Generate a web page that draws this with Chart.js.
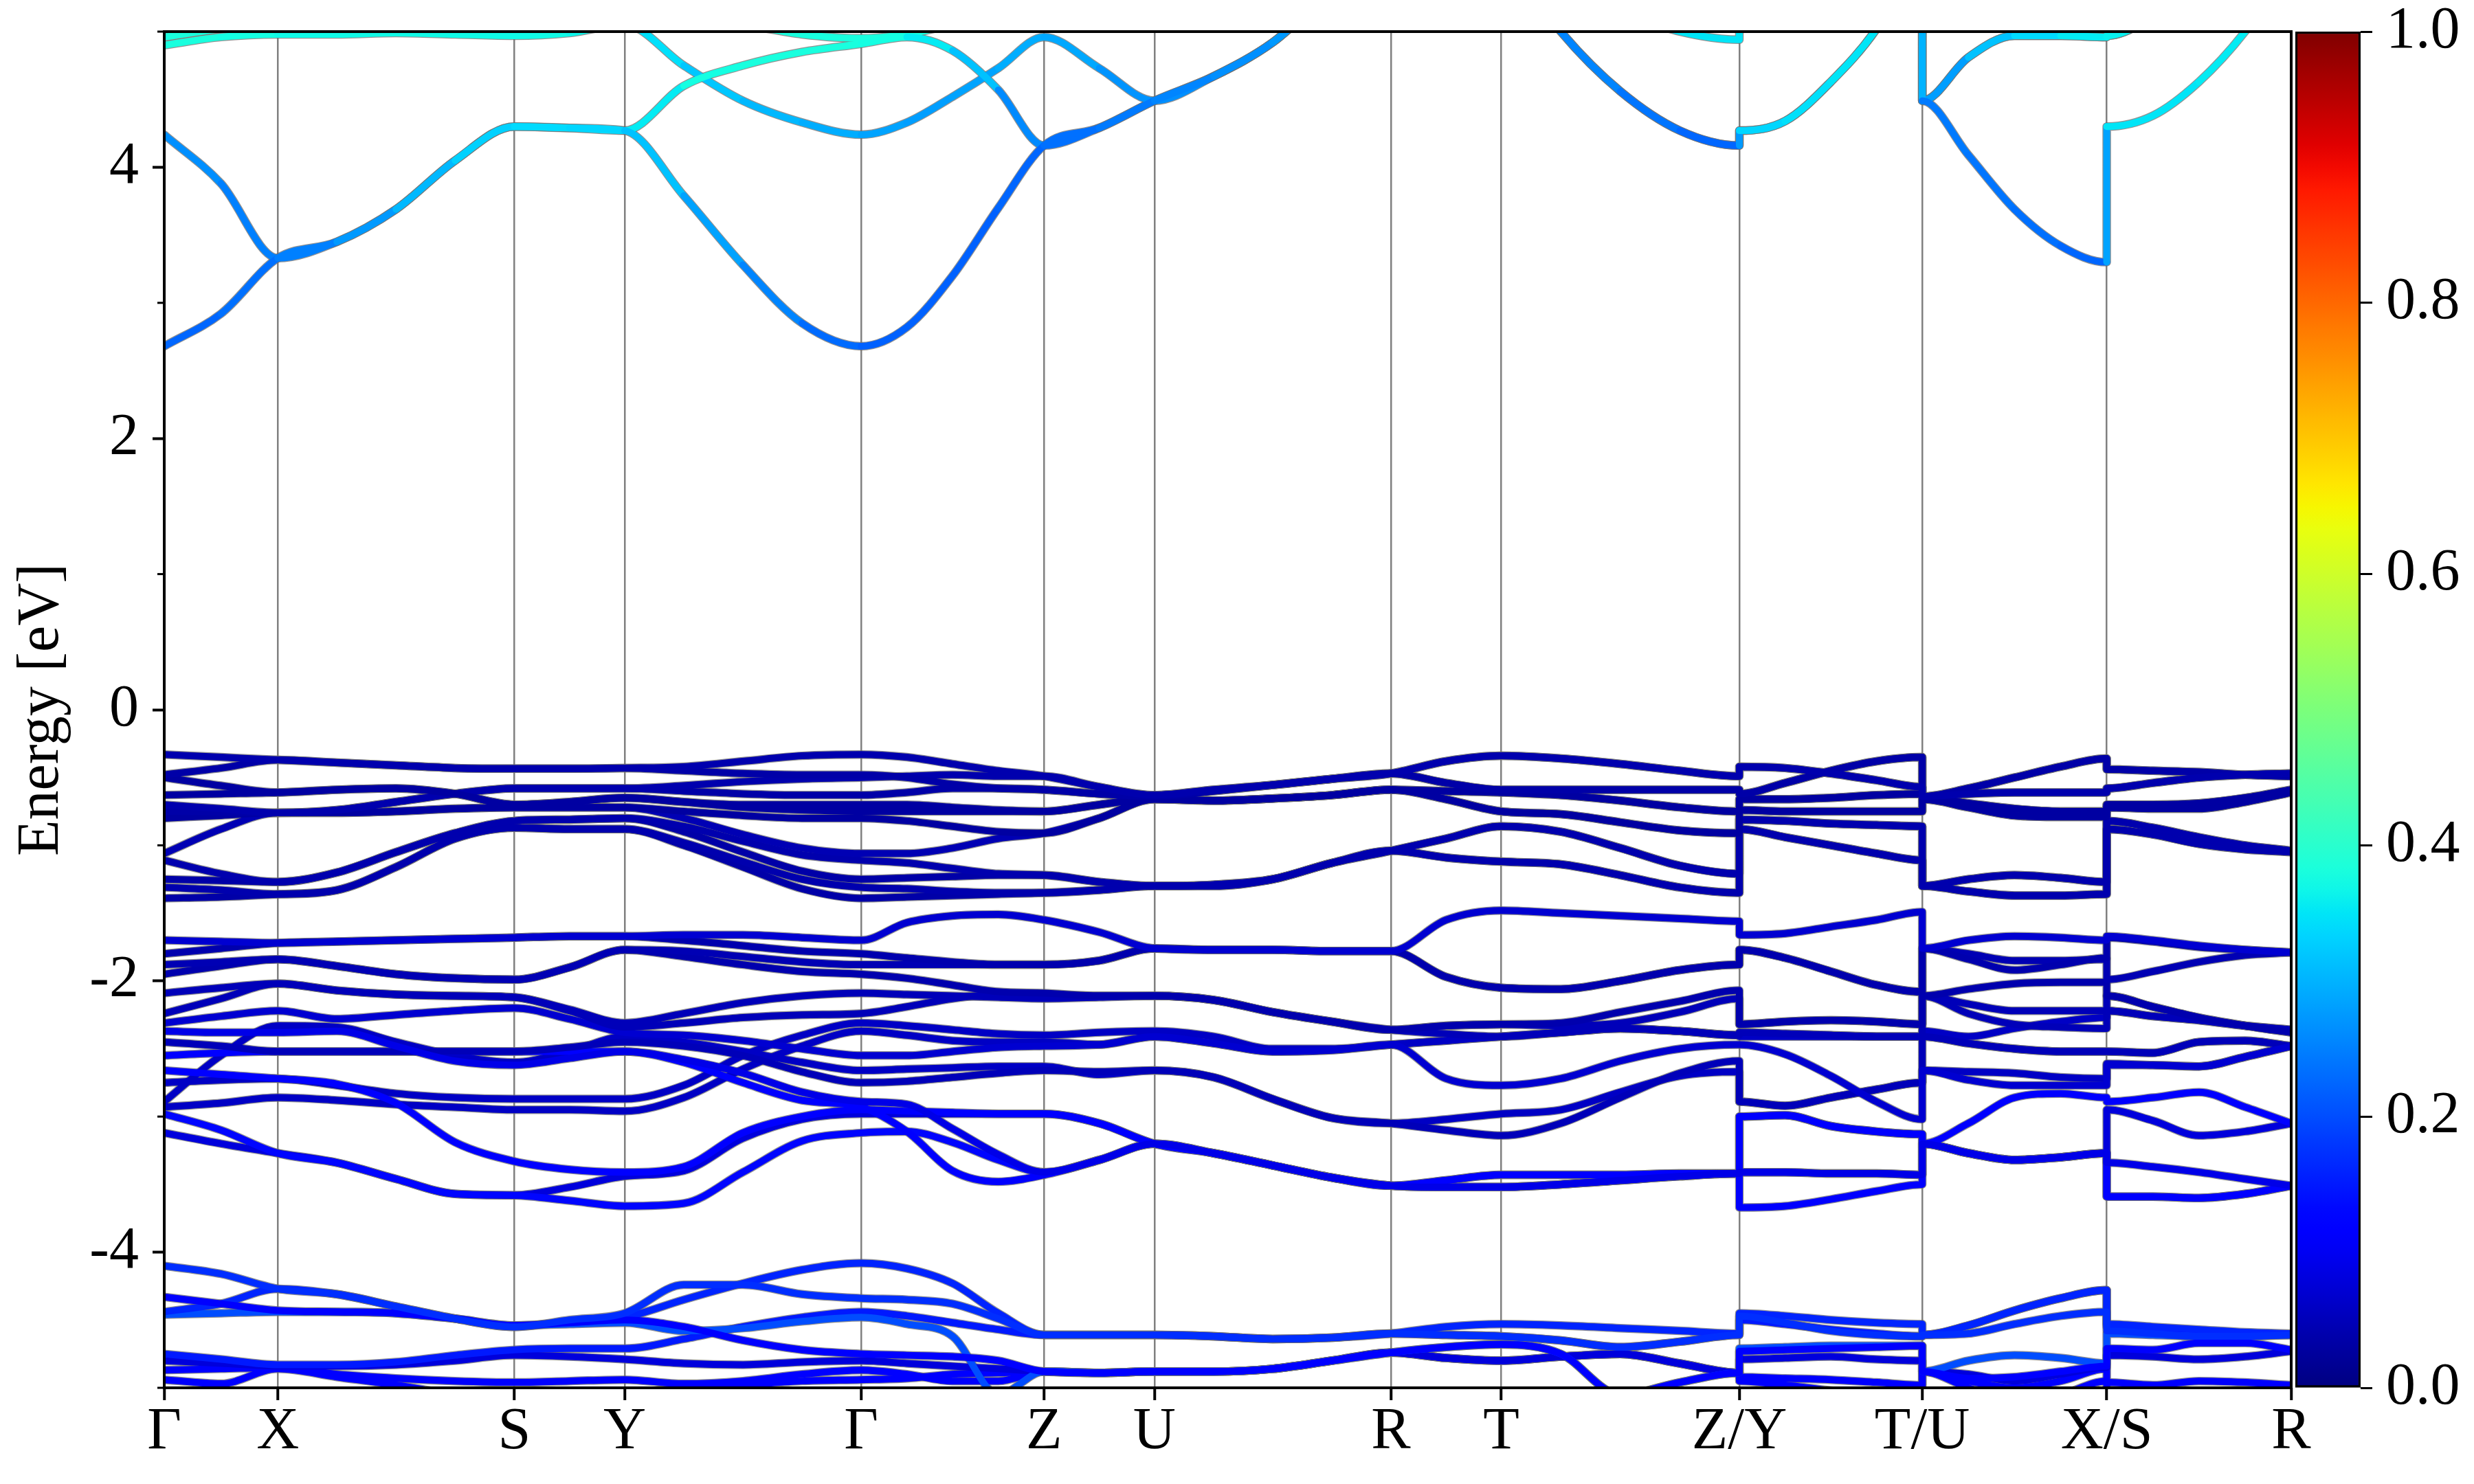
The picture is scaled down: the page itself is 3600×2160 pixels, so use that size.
<!DOCTYPE html>
<html><head><meta charset="utf-8">
<script src="https://cdn.jsdelivr.net/npm/chart.js@4"></script>
<style>
html,body{margin:0;padding:0;background:#fff;}
#wrap{position:relative;width:3600px;height:2160px;background:#fff;}
canvas{position:absolute;left:0;top:0;}
</style></head><body>
<div id="wrap"><canvas id="bands" width="3600" height="2160"></canvas><canvas id="cbar" width="3600" height="2160"></canvas></div>
<script>
// ---------- k-path ----------
const kTicks  = [0, 0.72, 2.22, 2.92, 4.42, 5.58, 6.28, 7.78, 8.48, 9.99, 11.15, 12.32, 13.49];
const kLabels = ['Γ','X','S','Y','Γ','Z','U','R','T','Z/Y','T/U','X/S','R'];
const kSubdiv = [2,4,2,4,4,2,4,2,4,4,4,4];
const jumpStarts = [9,10,11];
const yTickVals = [-4,-2,0,2,4];
const yMinorVals = [-5,-3,-1,1,3,5];
const cbarTicks = [0,0.2,0.4,0.6,0.8,1.0];

// grid order: G X S Y G Z U R T Z | Y..T | U..X | S..R
// ---------- conduction bands ----------
const c1 = [2.68,2.92,3.33,3.45,3.69,4.05,4.30,4.29,4.27,3.79,3.28,2.85,2.68,2.82,3.20,3.70,4.16,4.29,4.49,4.67,4.92,5.30,5.60,5.70,5.60,5.00,4.56,4.27,4.16,
  4.27,4.34,4.63,5.02,5.60,
  4.49,4.09,3.69,3.42,3.30,
  4.30,4.38,4.63,5.00,5.50];
const c1w = [0.22,0.23,0.24,0.26,0.29,0.32,0.34,0.34,0.33,0.30,0.27,0.24,0.22,0.22,0.22,0.22,0.23,0.24,0.25,0.26,0.27,0.28,0.28,0.28,0.28,0.26,0.25,0.23,0.22,
  0.33,0.34,0.35,0.35,0.35,
  0.25,0.24,0.24,0.23,0.22,
  0.35,0.35,0.35,0.36,0.36];
const c2 = [4.24,3.88,3.33,3.45,3.69,4.05,4.30,4.29,4.27,4.60,4.75,4.85,4.91,4.96,4.86,4.57,4.16,4.29,4.49,4.67,4.92,5.30,5.60,5.70,5.60,5.00,4.56,4.27,4.16,
  4.27,4.34,4.63,5.02,5.60,
  4.49,4.81,4.97,4.97,4.96,
  4.97,5.10,5.30,5.50,5.60];
const c2w = [0.27,0.26,0.24,0.26,0.29,0.32,0.34,0.34,0.34,0.37,0.38,0.38,0.38,0.37,0.34,0.29,0.23,0.24,0.25,0.26,0.27,0.28,0.28,0.28,0.28,0.26,0.25,0.23,0.22,
  0.33,0.34,0.35,0.35,0.35,
  0.26,0.30,0.33,0.35,0.36,
  0.36,0.36,0.36,0.36,0.36];
const c3 = [4.90,4.96,4.98,4.98,4.99,4.98,4.97,4.99,5.05,4.75,4.49,4.33,4.24,4.33,4.52,4.73,4.96,4.73,4.49,4.67,4.92,5.30,5.60,5.70,5.60,5.30,5.15,5.00,4.94,
  5.05,5.20,5.40,5.50,5.60,
  4.49,4.81,4.97,4.97,4.96,
  4.97,5.10,5.30,5.50,5.60];
const c3w = [0.38,0.38,0.37,0.37,0.37,0.37,0.37,0.37,0.36,0.33,0.31,0.30,0.29,0.28,0.28,0.29,0.30,0.28,0.26,0.27,0.28,0.30,0.30,0.30,0.30,0.32,0.34,0.35,0.35,
  0.35,0.35,0.35,0.35,0.35,
  0.26,0.30,0.33,0.35,0.36,
  0.36,0.36,0.36,0.36,0.36];
const c4 = [4.96,5.02,5.05,5.10,5.10,5.10,5.10,5.10,5.10,5.10,5.05,4.98,4.95,4.98,5.05,5.10,5.15,5.20,5.30,5.30,5.30,5.30,5.30,5.30,5.30,5.30,5.30,5.30,5.30,
  5.30,5.30,5.30,5.30,5.30,
  5.30,5.30,5.30,5.30,5.30,
  5.30,5.30,5.30,5.30,5.30];

// ---------- upper valence group ----------
const a1 = [-0.33,-0.35,-0.37,-0.39,-0.41,-0.43,-0.435,-0.435,-0.43,-0.42,-0.38,-0.34,-0.33,-0.35,-0.40,-0.45,-0.49,-0.57,-0.63,-0.59,-0.555,-0.51,-0.47,-0.38,-0.34,-0.36,-0.40,-0.45,-0.49,
  -0.42,-0.43,-0.47,-0.52,-0.57,
  -0.64,-0.62,-0.61,-0.61,-0.61,
  -0.58,-0.54,-0.50,-0.48,-0.47];
const a2 = [-0.48,-0.43,-0.37,-0.39,-0.41,-0.43,-0.435,-0.435,-0.43,-0.45,-0.47,-0.48,-0.48,-0.50,-0.55,-0.58,-0.59,-0.62,-0.64,-0.60,-0.555,-0.51,-0.47,-0.54,-0.59,-0.59,-0.59,-0.59,-0.59,
  -0.62,-0.54,-0.45,-0.38,-0.35,
  -0.64,-0.58,-0.50,-0.42,-0.36,
  -0.44,-0.45,-0.46,-0.48,-0.49];
const a3 = [-0.50,-0.56,-0.61,-0.59,-0.58,-0.62,-0.70,-0.68,-0.65,-0.68,-0.70,-0.70,-0.70,-0.70,-0.72,-0.74,-0.75,-0.70,-0.65,-0.67,-0.655,-0.63,-0.59,-0.60,-0.61,-0.63,-0.67,-0.72,-0.75,
  -0.66,-0.66,-0.65,-0.63,-0.62,
  -0.65,-0.69,-0.73,-0.75,-0.75,
  -0.70,-0.70,-0.69,-0.65,-0.59];
const a4 = [-0.63,-0.62,-0.61,-0.59,-0.58,-0.62,-0.70,-0.68,-0.65,-0.68,-0.72,-0.74,-0.75,-0.75,-0.75,-0.75,-0.75,-0.70,-0.66,-0.67,-0.655,-0.63,-0.59,-0.66,-0.75,-0.77,-0.83,-0.89,-0.91,
  -0.74,-0.75,-0.75,-0.75,-0.75,
  -0.66,-0.72,-0.78,-0.79,-0.79,
  -0.72,-0.73,-0.73,-0.68,-0.61];
const a5 = [-0.70,-0.73,-0.76,-0.74,-0.68,-0.62,-0.58,-0.58,-0.58,-0.56,-0.53,-0.51,-0.50,-0.49,-0.48,-0.49,-0.49,-0.57,-0.63,-0.59,-0.555,-0.51,-0.47,-0.38,-0.34,-0.36,-0.40,-0.45,-0.49,
  -0.42,-0.43,-0.47,-0.52,-0.57,
  -0.64,-0.62,-0.61,-0.61,-0.61,
  -0.58,-0.54,-0.50,-0.48,-0.47];
const a6 = [-0.75,-0.755,-0.76,-0.74,-0.68,-0.62,-0.58,-0.58,-0.58,-0.60,-0.62,-0.63,-0.63,-0.61,-0.58,-0.58,-0.59,-0.62,-0.64,-0.60,-0.555,-0.51,-0.47,-0.54,-0.59,-0.59,-0.59,-0.59,-0.59,
  -0.62,-0.54,-0.45,-0.38,-0.35,
  -0.64,-0.58,-0.50,-0.42,-0.36,
  -0.44,-0.45,-0.46,-0.48,-0.49];
const a7 = [-0.80,-0.78,-0.76,-0.76,-0.75,-0.73,-0.72,-0.72,-0.72,-0.75,-0.78,-0.80,-0.80,-0.82,-0.86,-0.90,-0.91,-0.80,-0.66,-0.67,-0.655,-0.63,-0.59,-0.60,-0.61,-0.63,-0.67,-0.72,-0.75,
  -0.66,-0.66,-0.65,-0.63,-0.62,
  -0.65,-0.69,-0.73,-0.75,-0.75,
  -0.70,-0.70,-0.69,-0.65,-0.59];
const a8 = [-1.06,-0.88,-0.76,-0.76,-0.75,-0.73,-0.72,-0.72,-0.72,-0.80,-0.92,-1.02,-1.06,-1.06,-1.02,-0.95,-0.91,-0.80,-0.66,-0.67,-0.655,-0.63,-0.59,-0.66,-0.75,-0.77,-0.83,-0.89,-0.91,
  -0.74,-0.75,-0.75,-0.75,-0.75,
  -0.66,-0.72,-0.78,-0.79,-0.79,
  -0.72,-0.73,-0.73,-0.68,-0.61];
const a9 = [-1.11,-1.21,-1.27,-1.20,-1.05,-0.91,-0.82,-0.81,-0.80,-0.86,-0.97,-1.07,-1.11,-1.13,-1.17,-1.21,-1.22,-1.27,-1.30,-1.29,-1.25,-1.13,-1.04,-0.95,-0.86,-0.90,-1.02,-1.15,-1.21,
  -0.81,-0.82,-0.84,-0.85,-0.86,
  -1.30,-1.25,-1.22,-1.24,-1.27,
  -0.82,-0.87,-0.94,-1.00,-1.04];
const a10 = [-1.25,-1.26,-1.27,-1.20,-1.05,-0.91,-0.82,-0.81,-0.80,-0.90,-1.05,-1.19,-1.25,-1.24,-1.23,-1.22,-1.22,-1.27,-1.30,-1.29,-1.25,-1.13,-1.04,-0.95,-0.86,-0.90,-1.02,-1.15,-1.21,
  -0.81,-0.82,-0.84,-0.85,-0.86,
  -1.30,-1.25,-1.22,-1.24,-1.27,
  -0.82,-0.87,-0.94,-1.00,-1.04];
const a11 = [-1.31,-1.33,-1.36,-1.33,-1.16,-0.95,-0.87,-0.88,-0.88,-0.98,-1.12,-1.25,-1.31,-1.32,-1.34,-1.35,-1.35,-1.33,-1.30,-1.30,-1.25,-1.13,-1.04,-1.09,-1.12,-1.14,-1.22,-1.31,-1.35,
  -0.88,-0.94,-1.00,-1.06,-1.11,
  -1.30,-1.34,-1.37,-1.37,-1.36,
  -0.88,-0.92,-0.99,-1.03,-1.05];
const a12 = [-1.39,-1.38,-1.36,-1.33,-1.16,-0.95,-0.87,-0.88,-0.88,-1.00,-1.16,-1.32,-1.39,-1.38,-1.37,-1.36,-1.35,-1.33,-1.30,-1.30,-1.25,-1.13,-1.04,-1.09,-1.12,-1.14,-1.22,-1.31,-1.35,
  -0.88,-0.94,-1.00,-1.06,-1.11,
  -1.30,-1.34,-1.37,-1.37,-1.36,
  -0.88,-0.92,-0.99,-1.03,-1.05];

// ---------- middle valence group ----------
const b1 = [-1.70,-1.71,-1.72,-1.71,-1.70,-1.69,-1.68,-1.67,-1.67,-1.66,-1.66,-1.68,-1.70,-1.57,-1.52,-1.51,-1.55,-1.64,-1.76,-1.77,-1.77,-1.78,-1.78,-1.55,-1.48,-1.50,-1.52,-1.54,-1.56,
  -1.66,-1.65,-1.60,-1.55,-1.49,
  -1.76,-1.70,-1.67,-1.68,-1.70,
  -1.67,-1.70,-1.74,-1.77,-1.79];
const b2 = [-1.80,-1.76,-1.72,-1.71,-1.70,-1.69,-1.68,-1.67,-1.67,-1.70,-1.74,-1.78,-1.80,-1.83,-1.86,-1.88,-1.88,-1.85,-1.76,-1.77,-1.77,-1.78,-1.78,-1.97,-2.05,-2.06,-2.00,-1.92,-1.88,
  -1.77,-1.83,-1.93,-2.03,-2.08,
  -1.76,-1.84,-1.92,-1.88,-1.83,
  -1.68,-1.71,-1.75,-1.77,-1.79];
const b3 = [-1.88,-1.86,-1.84,-1.89,-1.95,-1.98,-1.99,-1.90,-1.77,-1.78,-1.82,-1.86,-1.88,-1.88,-1.88,-1.88,-1.88,-1.85,-1.76,-1.77,-1.77,-1.78,-1.78,-1.97,-2.05,-2.06,-2.00,-1.92,-1.88,
  -1.77,-1.83,-1.93,-2.03,-2.08,
  -1.76,-1.80,-1.85,-1.85,-1.84,
  -1.99,-1.93,-1.86,-1.81,-1.79];
const b4 = [-1.95,-1.89,-1.84,-1.89,-1.95,-1.98,-1.99,-1.90,-1.77,-1.82,-1.88,-1.93,-1.95,-1.98,-2.03,-2.08,-2.09,-2.11,-2.11,-2.14,-2.23,-2.30,-2.36,-2.33,-2.32,-2.31,-2.23,-2.15,-2.07,
  -2.32,-2.30,-2.29,-2.30,-2.32,
  -2.11,-2.06,-2.02,-2.01,-2.01,
  -2.11,-2.19,-2.27,-2.33,-2.38];
const b5 = [-2.09,-2.05,-2.02,-2.07,-2.10,-2.11,-2.12,-2.21,-2.31,-2.24,-2.16,-2.11,-2.09,-2.10,-2.11,-2.12,-2.13,-2.12,-2.11,-2.14,-2.23,-2.30,-2.36,-2.33,-2.32,-2.33,-2.31,-2.23,-2.13,
  -2.32,-2.30,-2.29,-2.30,-2.32,
  -2.11,-2.17,-2.22,-2.22,-2.22,
  -2.11,-2.19,-2.27,-2.33,-2.38];
const b6 = [-2.24,-2.13,-2.02,-2.07,-2.10,-2.11,-2.12,-2.22,-2.34,-2.31,-2.27,-2.25,-2.24,-2.19,-2.13,-2.10,-2.10,-2.11,-2.11,-2.14,-2.23,-2.30,-2.36,-2.39,-2.41,-2.38,-2.35,-2.37,-2.40,
  -2.38,-2.39,-2.40,-2.41,-2.41,
  -2.11,-2.24,-2.32,-2.34,-2.35,
  -2.22,-2.26,-2.29,-2.33,-2.36];
const b7 = [-2.31,-2.26,-2.22,-2.28,-2.25,-2.22,-2.20,-2.28,-2.38,-2.40,-2.44,-2.50,-2.55,-2.55,-2.52,-2.49,-2.48,-2.47,-2.41,-2.46,-2.52,-2.51,-2.47,-2.72,-2.77,-2.72,-2.59,-2.50,-2.47,
  -2.47,-2.54,-2.70,-2.89,-3.02,
  -2.66,-2.73,-2.77,-2.77,-2.77,
  -2.62,-2.62,-2.63,-2.56,-2.48];
const b8 = [-2.37,-2.38,-2.38,-2.37,-2.48,-2.59,-2.62,-2.57,-2.52,-2.58,-2.68,-2.82,-2.89,-2.91,-3.09,-3.28,-3.41,-3.32,-3.20,-3.27,-3.36,-3.45,-3.51,-3.52,-3.52,-3.50,-3.47,-3.44,-3.42,
  -3.41,-3.41,-3.42,-3.42,-3.43,
  -3.20,-3.27,-3.32,-3.30,-3.27,
  -3.34,-3.37,-3.41,-3.46,-3.51];
const b9 = [-2.45,-2.48,-2.52,-2.52,-2.52,-2.52,-2.52,-2.49,-2.45,-2.48,-2.55,-2.67,-2.75,-2.74,-2.71,-2.68,-2.66,-2.67,-2.66,-2.71,-2.87,-3.01,-3.05,-3.10,-3.14,-3.05,-2.86,-2.68,-2.59,
  -2.89,-2.92,-2.86,-2.80,-2.75,
  -2.41,-2.46,-2.50,-2.52,-2.52,
  -2.52,-2.53,-2.45,-2.44,-2.48];
const b10 = [-2.55,-2.53,-2.52,-2.52,-2.52,-2.52,-2.52,-2.52,-2.52,-2.60,-2.75,-2.88,-2.93,-3.11,-3.40,-3.48,-3.43,-3.32,-3.20,-3.27,-3.36,-3.45,-3.51,-3.52,-3.52,-3.50,-3.47,-3.44,-3.42,
  -3.67,-3.66,-3.61,-3.55,-3.50,
  -3.20,-3.27,-3.32,-3.30,-3.27,
  -3.59,-3.59,-3.60,-3.57,-3.51];
const b11 = [-2.66,-2.69,-2.72,-2.76,-2.90,-3.19,-3.33,-3.39,-3.41,-3.37,-3.12,-3.00,-2.95,-2.96,-2.97,-2.98,-2.98,-3.05,-3.20,-3.27,-3.36,-3.45,-3.51,-3.47,-3.43,-3.43,-3.43,-3.42,-3.42,
  -3.00,-2.99,-3.07,-3.11,-3.13,
  -3.20,-3.05,-2.86,-2.83,-2.86,
  -2.89,-2.86,-2.82,-2.93,-3.05];
const b12 = [-2.75,-2.73,-2.72,-2.77,-2.83,-2.86,-2.87,-2.87,-2.87,-2.77,-2.55,-2.40,-2.31,-2.33,-2.36,-2.39,-2.40,-2.38,-2.37,-2.41,-2.50,-2.50,-2.47,-2.44,-2.41,-2.38,-2.35,-2.37,-2.40,
  -2.38,-2.39,-2.40,-2.41,-2.41,
  -2.37,-2.41,-2.35,-2.30,-2.27,
  -2.22,-2.26,-2.29,-2.33,-2.36];
const b13 = [-2.89,-2.55,-2.33,-2.34,-2.45,-2.55,-2.60,-2.52,-2.41,-2.45,-2.52,-2.60,-2.66,-2.65,-2.64,-2.63,-2.63,-2.69,-2.66,-2.71,-2.87,-3.01,-3.05,-3.02,-2.98,-2.95,-2.82,-2.70,-2.67,
  -2.89,-2.92,-2.86,-2.80,-2.75,
  -2.66,-2.67,-2.68,-2.71,-2.72,
  -2.61,-2.62,-2.63,-2.56,-2.48];
const b14 = [-2.93,-2.90,-2.86,-2.88,-2.91,-2.93,-2.95,-2.95,-2.96,-2.86,-2.65,-2.48,-2.37,-2.40,-2.44,-2.45,-2.45,-2.47,-2.41,-2.46,-2.52,-2.51,-2.47,-2.44,-2.41,-2.38,-2.35,-2.37,-2.40,
  -2.41,-2.41,-2.41,-2.41,-2.41,
  -2.41,-2.46,-2.50,-2.52,-2.52,
  -2.52,-2.53,-2.45,-2.44,-2.48];
const b15 = [-2.98,-3.10,-3.27,-3.34,-3.46,-3.57,-3.58,-3.62,-3.66,-3.64,-3.41,-3.18,-3.12,-3.11,-3.19,-3.32,-3.41,-3.32,-3.20,-3.27,-3.36,-3.45,-3.51,-3.52,-3.52,-3.50,-3.47,-3.44,-3.42,
  -3.41,-3.41,-3.42,-3.42,-3.43,
  -3.20,-3.27,-3.32,-3.30,-3.27,
  -3.59,-3.59,-3.60,-3.57,-3.51];
const b16 = [-3.12,-3.20,-3.27,-3.34,-3.46,-3.57,-3.58,-3.52,-3.44,-3.40,-3.16,-3.02,-2.98,-2.98,-2.98,-2.98,-2.98,-3.05,-3.20,-3.27,-3.36,-3.45,-3.51,-3.47,-3.43,-3.43,-3.43,-3.42,-3.42,
  -3.00,-2.99,-3.07,-3.11,-3.13,
  -3.20,-3.27,-3.32,-3.30,-3.27,
  -2.95,-3.03,-3.14,-3.11,-3.05];

// ---------- lower valence group ----------
const d1 = [-4.10,-4.16,-4.27,-4.31,-4.40,-4.49,-4.55,-4.50,-4.45,-4.24,-4.24,-4.31,-4.34,-4.35,-4.38,-4.49,-4.61,-4.61,-4.61,-4.62,-4.64,-4.63,-4.60,-4.61,-4.62,-4.65,-4.70,-4.66,-4.61,
  -4.47,-4.52,-4.58,-4.61,-4.62,
  -4.61,-4.60,-4.53,-4.47,-4.44,
  -4.58,-4.60,-4.62,-4.62,-4.61];
const d2 = [-4.33,-4.38,-4.43,-4.44,-4.45,-4.49,-4.54,-4.52,-4.50,-4.55,-4.65,-4.72,-4.75,-4.76,-4.77,-4.80,-4.88,-4.89,-4.88,-4.88,-4.86,-4.80,-4.74,-4.70,-4.68,-4.75,-5.05,-4.96,-4.89,
  -4.73,-4.72,-4.71,-4.70,-4.69,
  -4.88,-4.93,-4.92,-4.88,-4.84,
  -4.71,-4.72,-4.67,-4.67,-4.72];
const d3 = [-4.44,-4.38,-4.27,-4.31,-4.40,-4.49,-4.55,-4.51,-4.48,-4.35,-4.23,-4.13,-4.08,-4.12,-4.23,-4.45,-4.61,-4.61,-4.61,-4.62,-4.64,-4.63,-4.60,-4.55,-4.53,-4.54,-4.56,-4.58,-4.60,
  -4.45,-4.47,-4.50,-4.52,-4.53,
  -4.61,-4.54,-4.43,-4.34,-4.28,
  -4.53,-4.55,-4.57,-4.59,-4.60];
const d4 = [-4.46,-4.45,-4.44,-4.44,-4.45,-4.49,-4.54,-4.53,-4.52,-4.58,-4.56,-4.51,-4.48,-4.53,-4.62,-5.05,-4.88,-4.89,-4.88,-4.88,-4.86,-4.80,-4.74,-4.70,-4.68,-4.75,-5.05,-4.96,-4.89,
  -4.71,-4.70,-4.69,-4.69,-4.69,
  -4.88,-4.80,-4.76,-4.78,-4.82,
  -4.60,-4.61,-4.62,-4.62,-4.61];
const d5 = [-4.75,-4.79,-4.83,-4.83,-4.81,-4.76,-4.72,-4.71,-4.71,-4.64,-4.55,-4.48,-4.44,-4.47,-4.52,-4.57,-4.61,-4.61,-4.61,-4.62,-4.64,-4.63,-4.60,-4.61,-4.62,-4.65,-4.70,-4.66,-4.61,
  -4.50,-4.53,-4.57,-4.60,-4.62,
  -4.61,-4.54,-4.43,-4.34,-4.28,
  -4.55,-4.57,-4.59,-4.60,-4.61];
const d6 = [-4.80,-4.82,-4.84,-4.84,-4.83,-4.80,-4.76,-4.77,-4.79,-4.82,-4.83,-4.81,-4.80,-4.82,-4.84,-4.86,-4.88,-4.89,-4.88,-4.88,-4.86,-4.80,-4.74,-4.78,-4.80,-4.77,-4.75,-4.82,-4.89,
  -4.79,-4.78,-4.77,-4.79,-4.80,
  -4.88,-4.90,-4.95,-4.90,-4.85,
  -4.76,-4.77,-4.79,-4.77,-4.73];
const d7 = [-4.87,-4.86,-4.85,-4.90,-4.93,-4.95,-4.96,-4.95,-4.94,-4.97,-4.95,-4.90,-4.87,-4.90,-4.95,-4.95,-4.88,-4.89,-4.88,-4.88,-4.86,-4.80,-4.74,-4.78,-4.80,-4.77,-4.75,-4.82,-4.89,
  -4.92,-4.93,-4.94,-4.96,-4.98,
  -4.88,-4.95,-5.00,-4.95,-4.86,
  -4.96,-4.98,-4.95,-4.96,-4.98];
const d8 = [-4.94,-4.97,-4.86,-4.92,-4.98,-5.05,-5.10,-5.10,-5.05,-5.00,-4.98,-4.95,-4.94,-4.93,-4.90,-4.89,-4.88,-4.89,-4.88,-4.88,-4.86,-4.80,-4.74,-4.78,-4.80,-4.77,-4.75,-4.82,-4.89,
  -4.95,-4.98,-5.02,-5.05,-5.10,
  -4.88,-5.00,-5.10,-5.05,-4.95,
  -5.10,-5.10,-5.10,-5.10,-5.10];

// band list: values + projected weight (colour)
const bandList = [
  [c1,c1w],[c2,c2w],[c3,c3w],[c4,0.38],
  [a1,0.04],[a2,0.035],[a3,0.03],[a4,0.03],[a5,0.04],[a6,0.035],[a7,0.03],[a8,0.045],[a9,0.04],[a10,0.035],[a11,0.04],[a12,0.035],
  [b1,0.07],[b2,0.04],[b3,0.045],[b4,0.04],[b5,0.05],[b6,0.05],[b7,0.07],[b8,0.09],[b9,0.05],[b10,0.12],[b11,0.11],[b12,0.06],[b13,0.06],[b14,0.06],[b15,0.13],[b16,0.08],
  [d1,0.17],[d2,0.12],[d3,0.16],[d4,0.20],[d5,0.15],[d6,0.08],[d7,0.11],[d8,0.11]
];

// ---------- helpers ----------
const kGrid = [];
for (let s = 0; s < kSubdiv.length; s++) {
  const a = kTicks[s], b = kTicks[s+1], n = kSubdiv[s];
  const j0 = (s === 0 || jumpStarts.includes(s)) ? 0 : 1;
  for (let j = j0; j <= n; j++) kGrid.push(a + (b - a) * j / n);
}
const JR=[[0,0],[0.35,0],[0.66,1],[0.89,1],[1,0.5]];
const JG=[[0,0],[0.125,0],[0.375,1],[0.64,1],[0.91,0],[1,0]];
const JB=[[0,0.5],[0.11,1],[0.34,1],[0.65,0],[1,0]];
function lin(p,x){ if(x<=p[0][0]) return p[0][1]; for(let i=1;i<p.length;i++){ if(x<=p[i][0]){ const t=(x-p[i-1][0])/(p[i][0]-p[i-1][0]); return p[i-1][1]+t*(p[i][1]-p[i-1][1]); } } return p[p.length-1][1]; }
function jet(x){ return 'rgb('+Math.round(255*lin(JR,x))+','+Math.round(255*lin(JG,x))+','+Math.round(255*lin(JB,x))+')'; }

const FONT = 'Liberation Serif';
Chart.defaults.font.family = FONT;
Chart.defaults.color = '#000';

const datasets = [];
bandList.forEach(([vals, w]) => {
  if (vals.length !== kGrid.length) console.error('length mismatch', vals.length);
  const pts = kGrid.map((k, i) => ({x: k, y: vals[i]}));
  const base = { data: pts, pointRadius: 0, cubicInterpolationMode: 'monotone', fill: false, clip: 0,
                 borderCapStyle: 'round', borderJoinStyle: 'round' };
  // thin grey edge under each band
  datasets.push(Object.assign({}, base, { borderWidth: 12.5, borderColor: 'rgba(110,110,110,0.75)', order: 1 }));
  const ds = Object.assign({}, base, { borderWidth: 10, order: 0 });
  if (Array.isArray(w)) {
    ds.borderColor = jet(w[0]);
    ds.segment = { borderColor: ctx => jet((w[ctx.p0DataIndex] + w[ctx.p1DataIndex]) / 2) };
  } else {
    ds.borderColor = jet(w);
  }
  datasets.push(ds);
});

const framePlugin = {
  id: 'frame',
  afterDraw(chart) {
    const {ctx, chartArea: a, scales: {y}} = chart;
    ctx.save();
    ctx.strokeStyle = '#000';
    ctx.lineWidth = 3;
    for (const v of yMinorVals) {
      const py = y.getPixelForValue(v);
      ctx.beginPath(); ctx.moveTo(a.left - 10, py); ctx.lineTo(a.left, py); ctx.stroke();
    }
    ctx.lineWidth = 4;
    ctx.strokeRect(a.left, a.top, a.right - a.left, a.bottom - a.top);
    ctx.restore();
  }
};

const tickFont = {family: FONT, size: 86, lineHeight: 1};

new Chart(document.getElementById('bands'), {
  type: 'line',
  data: { datasets },
  options: {
    responsive: false, animation: false, devicePixelRatio: 1,
    layout: { padding: {left: 0, top: 46, right: 266, bottom: 0} },
    plugins: { legend: {display: false}, tooltip: {enabled: false} },
    scales: {
      x: {
        type: 'linear', min: kTicks[0], max: kTicks[kTicks.length-1], z: 1,
        afterBuildTicks: s => { s.ticks = kTicks.map(v => ({value: v})); },
        afterFit: s => { s.height = 140; s.paddingLeft = 0; s.paddingRight = 0; },
        ticks: { callback: (v, i) => kLabels[i], font: tickFont, color: '#000', padding: 4, maxRotation: 0, autoSkip: false },
        grid: { color: '#808080', lineWidth: 2.5, tickColor: '#000', tickWidth: 4, tickLength: 18, drawOnChartArea: true },
        border: { display: false }
      },
      y: {
        type: 'linear', min: -5, max: 5,
        afterBuildTicks: s => { s.ticks = yTickVals.map(v => ({value: v})); },
        afterFit: s => { s.width = 239; s.paddingTop = 0; s.paddingBottom = 0; },
        ticks: { callback: v => String(v), font: tickFont, color: '#000', padding: 20 },
        grid: { drawOnChartArea: false, tickLength: 17, tickColor: '#000', tickWidth: 4, color: '#000' },
        border: { display: false },
        title: { display: true, text: 'Energy [eV]', font: {family: FONT, size: 86, lineHeight: 1.2}, color: '#000', padding: {top: 10, bottom: 0} }
      }
    }
  },
  plugins: [framePlugin]
});

new Chart(document.getElementById('cbar'), {
  type: 'bar',
  data: { labels: [''], datasets: [{
    data: [[0, 1]],
    backgroundColor: c => {
      const ch = c.chart, a = ch.chartArea;
      if (!a) return '#000080';
      const g = ch.ctx.createLinearGradient(0, a.bottom, 0, a.top);
      for (let i = 0; i <= 60; i++) g.addColorStop(i/60, jet(i/60));
      return g;
    },
    borderColor: '#000', borderWidth: 3.5, borderSkipped: false,
    barPercentage: 1, categoryPercentage: 1
  }]},
  options: {
    responsive: false, animation: false, devicePixelRatio: 1,
    layout: { padding: {left: 3340, top: 46, right: 0, bottom: 140} },
    plugins: { legend: {display: false}, tooltip: {enabled: false} },
    scales: {
      x: { display: false },
      y: {
        position: 'right', min: 0, max: 1,
        afterBuildTicks: s => { s.ticks = cbarTicks.map(v => ({value: v})); },
        afterFit: s => { s.width = 165; s.paddingTop = 0; s.paddingBottom = 0; },
        ticks: { callback: v => v.toFixed(1), font: tickFont, color: '#000', padding: 20 },
        grid: { drawOnChartArea: false, tickLength: 17, tickColor: '#000', tickWidth: 3, color: '#000' },
        border: { display: false }
      }
    }
  }
});
</script>
</body></html>
